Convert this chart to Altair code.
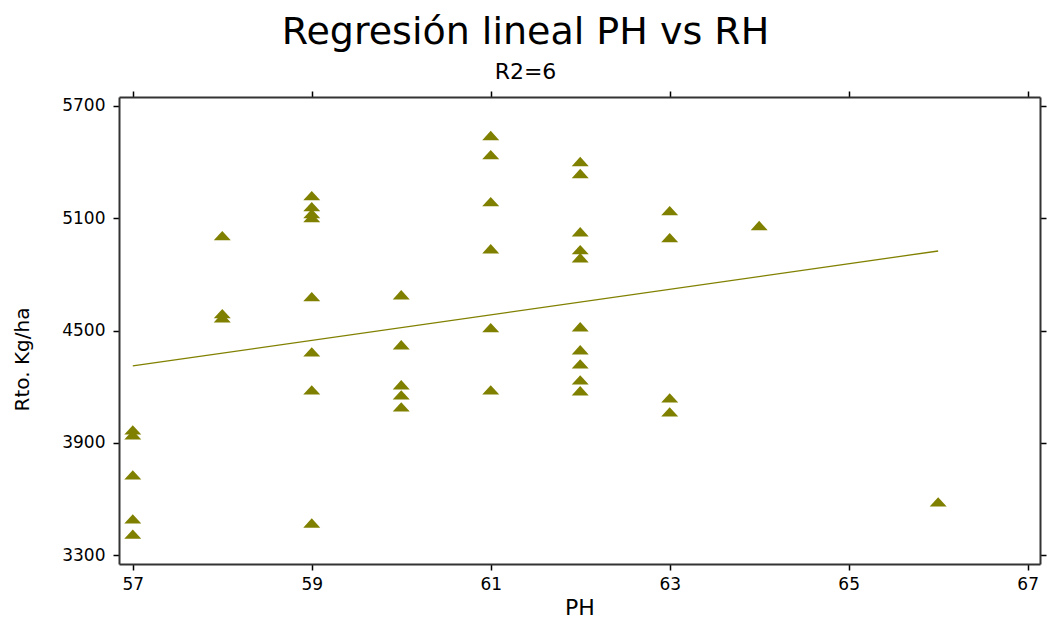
import altair as alt
import pandas as pd

# PH values (x) and yield values Rto. Kg/ha (y)
ph_values = [57, 57, 57, 57, 57,
             58, 58, 58,
             59, 59, 59, 59, 59, 59, 59, 59,
             60, 60, 60, 60, 60,
             61, 61, 61, 61, 61, 61,
             62, 62, 62, 62, 62, 62, 62, 62, 62, 62,
             63, 63, 63, 63,
             64,
             66]
rto_values = [3969, 3942, 3728, 3493, 3412,
              5007, 4590, 4568,
              5221, 5162, 5125, 5103, 4681, 4386, 4183, 3471,
              4691, 4424, 4210, 4156, 4092,
              5542, 5440, 5189, 4937, 4515, 4183,
              5403, 5339, 5028, 4932, 4889, 4520, 4397, 4322, 4236, 4178,
              5141, 4996, 4140, 4065,
              5061,
              3584]

# fitted regression line end points
fit_ph = [57, 66]
fit_rto = [4311, 4925]

x_ticks = [57, 59, 61, 63, 65, 67]
y_ticks = [3300, 3900, 4500, 5100, 5700]

pts = pd.DataFrame({"PH": ph_values, "Rto": rto_values})
fit = pd.DataFrame({"PH": fit_ph, "Rto": fit_rto})

FONT = "DejaVu Sans"
OLIVE = "#808000"

xs = alt.Scale(domain=[56.846, 67.138], nice=False, zero=False)
ys = alt.Scale(domain=[3252, 5748], nice=False, zero=False)

points = alt.Chart(pts).mark_point(
    shape="M0,-0.55L-1,0.55L1,0.55Z", filled=True, size=289,
    color=OLIVE, opacity=1
).encode(
    x=alt.X("PH:Q", scale=xs,
            axis=alt.Axis(values=x_ticks, title="PH", labelPadding=6, format="d",
                          titleY=33, titleBaseline="top", titleFontSize=22)),
    y=alt.Y("Rto:Q", scale=ys,
            axis=alt.Axis(values=y_ticks, title="Rto. Kg/ha", labelPadding=8, format="d",
                          titleX=-97, titleY=262, titleAngle=-90,
                          titleAlign="center", titleBaseline="middle",
                          titleFontSize=20)),
)

line = alt.Chart(fit).mark_line(color=OLIVE, strokeWidth=1.3).encode(
    x=alt.X("PH:Q", scale=xs, axis=None),
    y=alt.Y("Rto:Q", scale=ys, axis=None),
)

mirror = alt.Chart(fit).mark_point(opacity=0).encode(
    x=alt.X("PH:Q", scale=xs,
            axis=alt.Axis(orient="top", values=x_ticks, labels=False, title=None)),
    y=alt.Y("Rto:Q", scale=ys,
            axis=alt.Axis(orient="right", values=y_ticks, labels=False, title=None)),
)

chart = alt.layer(points, line, mirror).resolve_axis(
    x="independent", y="independent"
).properties(
    width=921,
    height=467,
    autosize=alt.AutoSizeParams(type="none"),
    padding={"left": 119, "top": 97, "right": 7, "bottom": 57},
    title=alt.TitleParams(
        text="Regresión lineal PH vs RH",
        subtitle="R2=6",
        font=FONT, fontSize=38, fontWeight="normal", color="black",
        subtitleFont=FONT, subtitleFontSize=22, subtitleColor="black",
        subtitlePadding=10,
        anchor="middle", frame="group", dx=-54, offset=7,
    ),
).configure_view(stroke=None).configure_axis(
    grid=False,
    labelFont=FONT, labelFontSize=17, labelColor="black",
    titleFont=FONT, titleFontWeight="normal", titleColor="black",
    tickColor="black", tickSize=6, tickWidth=1.5,
    domainColor="#333333", domainWidth=2,
)

chart.save("out.html", embed_options={"renderer": "svg", "actions": False})
